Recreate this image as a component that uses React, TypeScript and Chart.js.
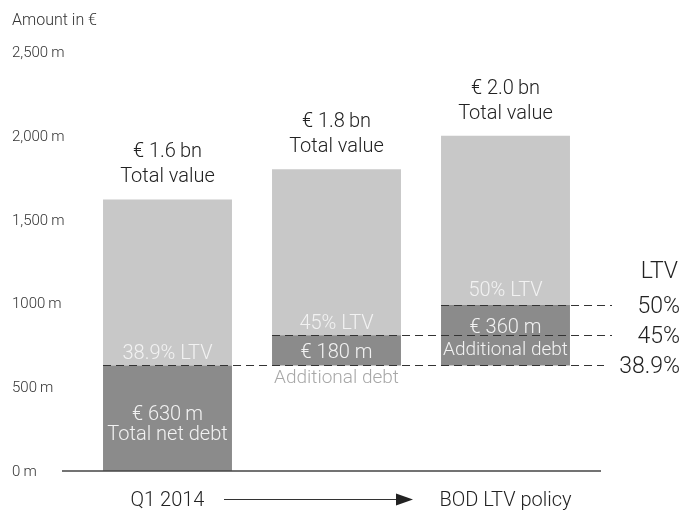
import React, { useEffect, useRef } from "react";
import { Chart, registerables } from "chart.js";

Chart.register(...registerables);

const categories = ["Q1 2014", "Interim", "BOD LTV policy"];
const debtStart = [0, 630, 630];
const debtEnd = [630, 810, 990];
const totalValue = [1620, 1800, 2000];
const debtLabels = ["€ 630\u2009m", "€ 180 m", "€ 360 m"];
const debtSubLabels = ["Total net debt", "Additional debt", "Additional debt"];
const valueLabels = ["€ 1.6\u2009bn", "€ 1.8\u2009bn", "€ 2.0\u2009bn"];
const valueSubLabels = ["Total value", "Total value", "Total value"];
const ltvLabels = ["38.9% LTV", "45% LTV", "50% LTV"];
const ltvRight = ["38.9%", "45%", "50%"];
const yTicks = [0, 500, 1000, 1500, 2000, 2500];
const yTickLabels = ["0\u2009m", "500\u2009m", "1000\u2009m", "1,500\u2009m", "2,000\u2009m", "2,500\u2009m"];
const axisTitle = "Amount in €";
const bottomLeft = "Q1 2014";
const bottomRight = "BOD LTV policy";

const DARK = "#8b8b8b";
const LIGHT = "#c8c8c8";
const FONT = "Roboto, 'Liberation Sans', sans-serif";

const overlay = {
  id: "overlay",
  afterDatasetsDraw(chart: any) {
    const ctx = chart.ctx;
    const y = chart.scales.y;
    const metaDark = chart.getDatasetMeta(0);
    ctx.save();
    // axis title & ticks
    ctx.fillStyle = "#333";
    ctx.textBaseline = "alphabetic";
    ctx.textAlign = "left";
    ctx.font = `300 16px ${FONT}`;
    ctx.fillText(axisTitle, 12, 25);
    ctx.font = `300 15px ${FONT}`;
    yTicks.forEach((v, i) => {
      ctx.fillText(yTickLabels[i], 12, y.getPixelForValue(v) + 5);
    });
    // baseline
    const y0 = y.getPixelForValue(0);
    ctx.strokeStyle = "#444";
    ctx.lineWidth = 1.5;
    ctx.beginPath();
    ctx.moveTo(62, y0);
    ctx.lineTo(601, y0);
    ctx.stroke();

    // dashed lines
    ctx.setLineDash([8, 5]);
    ctx.lineWidth = 1;
    ctx.strokeStyle = "#333";
    const lineEnds = [604, 612, 612];
    debtEnd.forEach((lvl, i) => {
      const bar = metaDark.data[i];
      const left = bar.x - bar.width / 2;
      const py = Math.round(y.getPixelForValue(lvl)) + 0.5;
      ctx.beginPath();
      ctx.moveTo(left, py);
      ctx.lineTo(lineEnds[i], py);
      ctx.stroke();
    });
    ctx.setLineDash([]);

    // labels
    ctx.textAlign = "center";
    categories.forEach((_, i) => {
      const bar = metaDark.data[i];
      const cx = bar.x;
      const topPx = y.getPixelForValue(totalValue[i]);
      const dTop = y.getPixelForValue(debtEnd[i]);
      const dBot = y.getPixelForValue(debtStart[i]);
      ctx.font = `300 20px ${FONT}`;
      ctx.fillStyle = "#222";
      ctx.fillText(valueLabels[i], cx, topPx - 42);
      ctx.fillText(valueSubLabels[i], cx, topPx - 17);
      ctx.fillStyle = "#f2f2f2";
      ctx.fillText(ltvLabels[i], cx, dTop - (i === 2 ? 9 : 6));
      if (i === 0) {
        ctx.fillText(debtLabels[i], cx, dTop + 55);
        ctx.fillText(debtSubLabels[i], cx, dTop + 75);
      } else if (i === 1) {
        ctx.fillText(debtLabels[i], cx, dTop + 23);
        ctx.fillStyle = "#a8a8a8";
        ctx.font = `300 19px ${FONT}`;
        ctx.fillText(debtSubLabels[i], cx, dBot + 18);
      } else {
        ctx.fillText(debtLabels[i], cx, dTop + 28);
        ctx.font = `300 19px ${FONT}`;
        ctx.fillText(debtSubLabels[i], cx, dTop + 50);
      }
    });

    // right LTV labels
    ctx.fillStyle = "#222";
    ctx.font = `300 23px ${FONT}`;
    ctx.textAlign = "right";
    ctx.fillText("LTV", 678, 278);
    debtEnd.forEach((lvl, i) => {
      ctx.fillText(ltvRight[i], 680, y.getPixelForValue(lvl) + 8);
    });

    // bottom labels and arrow
    const x0 = metaDark.data[0].x;
    const x2 = metaDark.data[2].x;
    ctx.textAlign = "center";
    ctx.font = `300 20px ${FONT}`;
    ctx.fillText(bottomLeft, x0, 506);
    ctx.fillText(bottomRight, x2, 506);
    const ay = 499.5;
    ctx.strokeStyle = "#333";
    ctx.lineWidth = 1;
    ctx.beginPath();
    ctx.moveTo(224, ay);
    ctx.lineTo(400, ay);
    ctx.stroke();
    ctx.fillStyle = "#222";
    ctx.beginPath();
    ctx.moveTo(396, ay - 6);
    ctx.lineTo(413, ay);
    ctx.lineTo(396, ay + 6);
    ctx.closePath();
    ctx.fill();
    ctx.restore();
  },
};

export default function App() {
  const ref = useRef<HTMLCanvasElement>(null);
  useEffect(() => {
    if (!ref.current) return;
    const chart = new Chart(ref.current, {
      type: "bar",
      data: {
        labels: categories,
        datasets: [
          {
            data: debtStart.map((s, i) => [s, debtEnd[i]]) as any,
            backgroundColor: DARK,
            borderWidth: 0,
          },
          {
            data: debtEnd.map((e, i) => [e, totalValue[i]]) as any,
            backgroundColor: LIGHT,
            borderWidth: 0,
          },
        ],
      },
      options: {
        responsive: false,
        animation: false,
        devicePixelRatio: 1,
        layout: { padding: { left: 83, right: 91, top: 52, bottom: 39 } },
        datasets: { bar: { grouped: false, barPercentage: 0.763, categoryPercentage: 1 } } as any,
        plugins: { legend: { display: false }, tooltip: { enabled: false } },
        scales: {
          x: { display: false },
          y: { display: false, min: 0, max: 2500 },
        },
      },
      plugins: [overlay],
    });
    return () => chart.destroy();
  }, []);
  return (
    <div style={{ position: "fixed", left: 0, top: 0, width: 681, height: 510, background: "#fff" }}>
      <canvas ref={ref} width={681} height={510} style={{ width: 681, height: 510 }} />
    </div>
  );
}
